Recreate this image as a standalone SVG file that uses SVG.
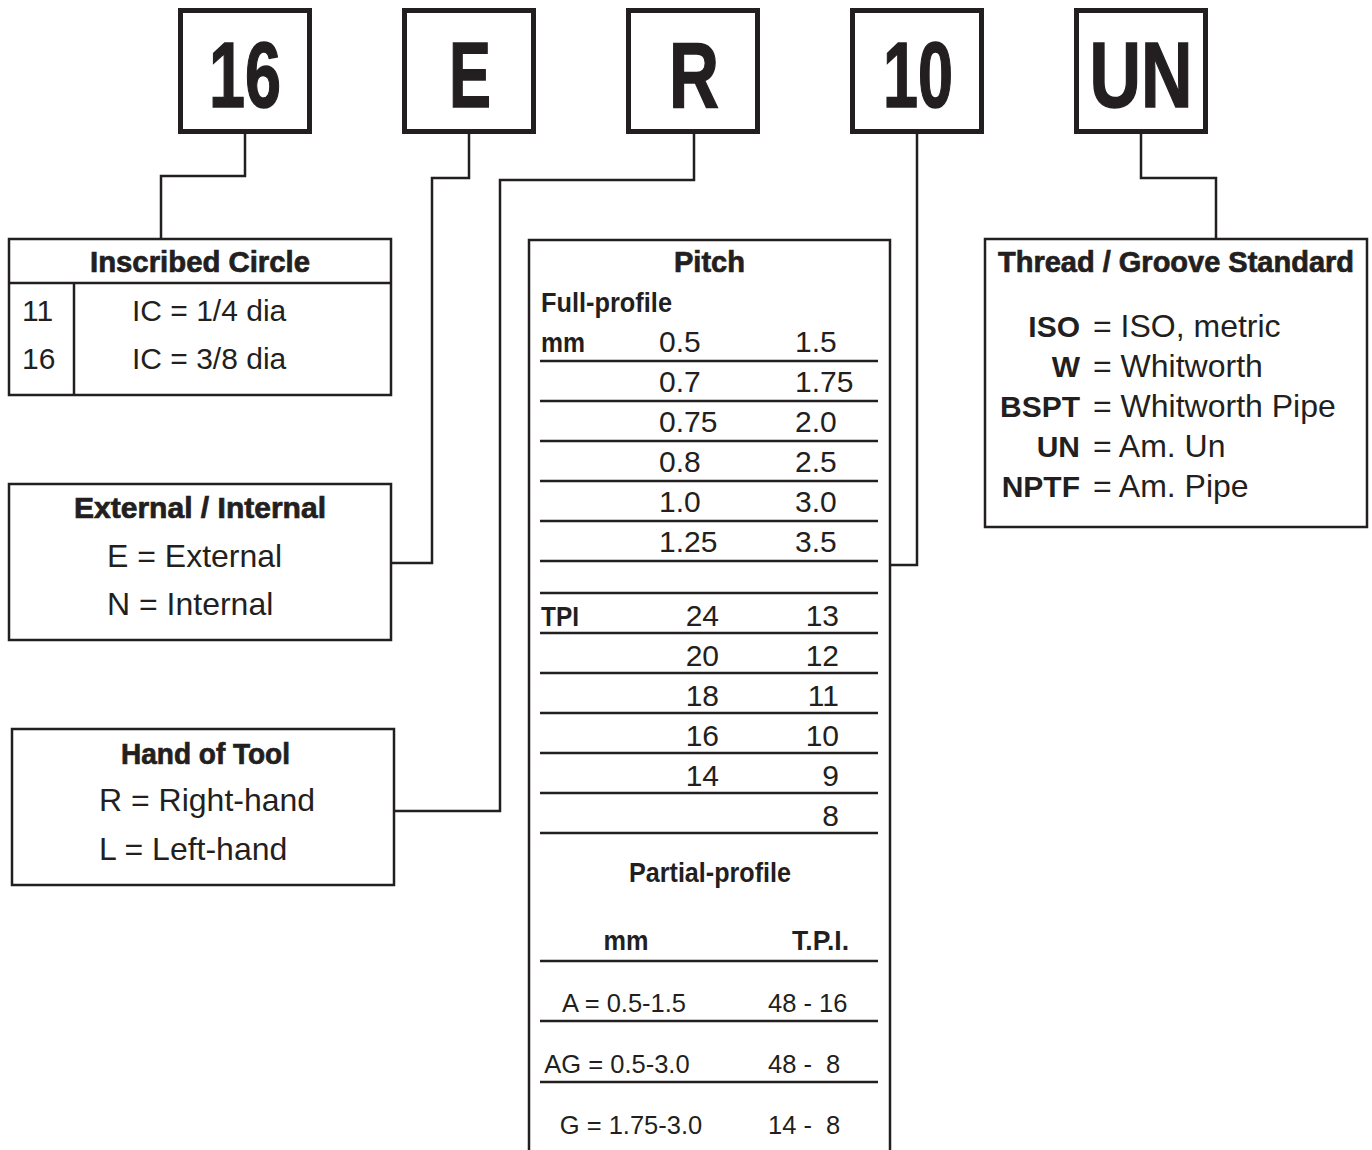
<svg xmlns="http://www.w3.org/2000/svg" width="1372" height="1150" viewBox="0 0 1372 1150">
<style>
  text { fill: #231f20; font-family: "Liberation Sans", Arial, sans-serif; }
  .big { font-size: 93px; font-weight: bold; text-anchor: middle; stroke: #231f20; stroke-width: 1.5; }
  .hd { font-size: 29px; font-weight: bold; text-anchor: middle; stroke: #231f20; stroke-width: 0.7; }
  .sb { font-size: 28px; font-weight: bold; }
  .t { font-size: 32px; }
  .n { font-size: 30px; }
  .p { font-size: 25.5px; }
  .ab { font-size: 30px; font-weight: bold; text-anchor: end; }
  .r { text-anchor: end; }
  .m { text-anchor: middle; }
  .topbox { fill: #fff; stroke: #231f20; stroke-width: 5; }
  .box { fill: #fff; stroke: #231f20; stroke-width: 2.5; }
  .rule { stroke: #231f20; stroke-width: 2.5; }
  .conn { fill: none; stroke: #231f20; stroke-width: 2.5; }
</style>
<rect width="1372" height="1150" fill="#fff"/>

<g id="connectors">
  <path class="conn" d="M245 134 V176 H161 V238"/>
  <path class="conn" d="M469 134 V178 H432 V563 H392"/>
  <path class="conn" d="M694 134 V180 H500 V811 H395"/>
  <path class="conn" d="M917 134 V565 H891"/>
  <path class="conn" d="M1141 134 V178 H1216 V238"/>
</g>

<g id="code-16">
  <rect class="topbox" x="180.5" y="10.5" width="129" height="121"/>
  <text class="big" x="245" y="107" textLength="72" lengthAdjust="spacingAndGlyphs">16</text>
</g>
<g id="code-E">
  <rect class="topbox" x="404.5" y="10.5" width="129" height="121"/>
  <text class="big" x="470" y="107" textLength="42" lengthAdjust="spacingAndGlyphs">E</text>
</g>
<g id="code-R">
  <rect class="topbox" x="628.5" y="10.5" width="129" height="121"/>
  <text class="big" x="694" y="107" textLength="50" lengthAdjust="spacingAndGlyphs">R</text>
</g>
<g id="code-10">
  <rect class="topbox" x="852.5" y="10.5" width="129" height="121"/>
  <text class="big" x="918" y="107" textLength="70" lengthAdjust="spacingAndGlyphs">10</text>
</g>
<g id="code-UN">
  <rect class="topbox" x="1076.5" y="10.5" width="129" height="121"/>
  <text class="big" x="1141" y="107" textLength="103" lengthAdjust="spacingAndGlyphs">UN</text>
</g>

<g id="inscribed-circle">
  <rect class="box" x="9" y="239" width="382" height="156"/>
  <line class="rule" x1="9" y1="283" x2="391" y2="283"/>
  <line class="rule" x1="74" y1="283" x2="74" y2="395"/>
  <text class="hd" x="200" y="272" textLength="220" lengthAdjust="spacingAndGlyphs">Inscribed Circle</text>
  <text class="n" x="22" y="321">11</text>
  <text class="n" x="22" y="369">16</text>
  <text class="n" x="132" y="321">IC = 1/4 dia</text>
  <text class="n" x="132" y="369">IC = 3/8 dia</text>
</g>

<g id="external-internal">
  <rect class="box" x="9" y="484" width="382" height="156"/>
  <text class="hd" x="200" y="518" textLength="252" lengthAdjust="spacingAndGlyphs">External / Internal</text>
  <text class="t" x="107" y="567">E = External</text>
  <text class="t" x="107" y="615">N = Internal</text>
</g>

<g id="hand-of-tool">
  <rect class="box" x="12" y="729" width="382" height="156"/>
  <text class="hd" x="205.5" y="764" textLength="169" lengthAdjust="spacingAndGlyphs">Hand of Tool</text>
  <text class="t" x="99" y="811">R = Right-hand</text>
  <text class="t" x="99" y="860">L = Left-hand</text>
</g>

<g id="pitch">
  <rect class="box" x="529" y="240" width="361" height="940"/>
  <text class="hd" x="709.5" y="272" textLength="71" lengthAdjust="spacingAndGlyphs">Pitch</text>
  <text class="sb" x="541" y="312" textLength="131" lengthAdjust="spacingAndGlyphs">Full-profile</text>
  <text class="sb" x="541" y="352" textLength="44" lengthAdjust="spacingAndGlyphs">mm</text>
  <text class="n" x="659" y="352">0.5</text><text class="n" x="795" y="352">1.5</text>
  <text class="n" x="659" y="392">0.7</text><text class="n" x="795" y="392">1.75</text>
  <text class="n" x="659" y="432">0.75</text><text class="n" x="795" y="432">2.0</text>
  <text class="n" x="659" y="472">0.8</text><text class="n" x="795" y="472">2.5</text>
  <text class="n" x="659" y="512">1.0</text><text class="n" x="795" y="512">3.0</text>
  <text class="n" x="659" y="552">1.25</text><text class="n" x="795" y="552">3.5</text>
  <line class="rule" x1="540" y1="361" x2="878" y2="361"/>
  <line class="rule" x1="540" y1="401" x2="878" y2="401"/>
  <line class="rule" x1="540" y1="441" x2="878" y2="441"/>
  <line class="rule" x1="540" y1="481" x2="878" y2="481"/>
  <line class="rule" x1="540" y1="521" x2="878" y2="521"/>
  <line class="rule" x1="540" y1="561" x2="878" y2="561"/>
  <line class="rule" x1="540" y1="593" x2="878" y2="593"/>
  <text class="sb" x="541" y="626" textLength="38" lengthAdjust="spacingAndGlyphs">TPI</text>
  <text class="n r" x="719" y="626">24</text><text class="n r" x="839" y="626">13</text>
  <text class="n r" x="719" y="666">20</text><text class="n r" x="839" y="666">12</text>
  <text class="n r" x="719" y="706">18</text><text class="n r" x="839" y="706">11</text>
  <text class="n r" x="719" y="746">16</text><text class="n r" x="839" y="746">10</text>
  <text class="n r" x="719" y="786">14</text><text class="n r" x="839" y="786">9</text>
  <text class="n r" x="839" y="826">8</text>
  <line class="rule" x1="540" y1="633" x2="878" y2="633"/>
  <line class="rule" x1="540" y1="673" x2="878" y2="673"/>
  <line class="rule" x1="540" y1="713" x2="878" y2="713"/>
  <line class="rule" x1="540" y1="753" x2="878" y2="753"/>
  <line class="rule" x1="540" y1="793" x2="878" y2="793"/>
  <line class="rule" x1="540" y1="833" x2="878" y2="833"/>
  <text class="sb m" x="710" y="882" textLength="162" lengthAdjust="spacingAndGlyphs">Partial-profile</text>
  <text class="sb m" x="626" y="950" textLength="45" lengthAdjust="spacingAndGlyphs">mm</text>
  <text class="sb r" x="849" y="950" textLength="57" lengthAdjust="spacingAndGlyphs">T.P.I.</text>
  <line class="rule" x1="540" y1="961" x2="878" y2="961"/>
  <text class="p m" x="624" y="1012">A = 0.5-1.5</text>
  <text class="p" x="768" y="1012" xml:space="preserve">48 - 16</text>
  <line class="rule" x1="540" y1="1021" x2="878" y2="1021"/>
  <text class="p m" x="617" y="1073">AG = 0.5-3.0</text>
  <text class="p" x="768" y="1073" xml:space="preserve">48 -  8</text>
  <line class="rule" x1="540" y1="1082" x2="878" y2="1082"/>
  <text class="p m" x="631" y="1134">G = 1.75-3.0</text>
  <text class="p" x="768" y="1134" xml:space="preserve">14 -  8</text>
</g>

<g id="thread-standard">
  <rect class="box" x="985" y="239" width="382" height="288"/>
  <text class="hd" x="1176" y="272" textLength="356" lengthAdjust="spacingAndGlyphs">Thread / Groove Standard</text>
  <text class="ab" x="1080" y="337">ISO</text><text class="t" x="1093" y="337">= ISO, metric</text>
  <text class="ab" x="1080" y="377">W</text><text class="t" x="1093" y="377">= Whitworth</text>
  <text class="ab" x="1080" y="417">BSPT</text><text class="t" x="1093" y="417">= Whitworth Pipe</text>
  <text class="ab" x="1080" y="457">UN</text><text class="t" x="1093" y="457">= Am. Un</text>
  <text class="ab" x="1080" y="497">NPTF</text><text class="t" x="1093" y="497">= Am. Pipe</text>
</g>
</svg>
